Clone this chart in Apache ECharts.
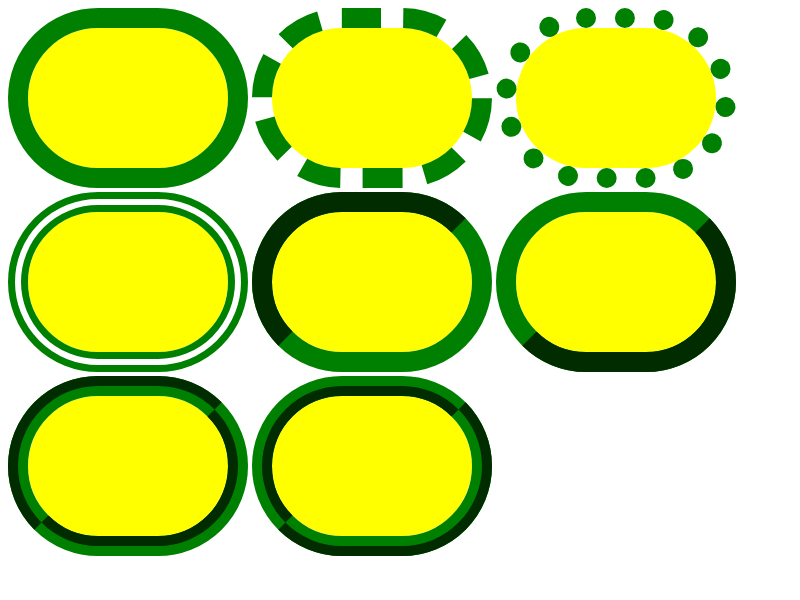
<!DOCTYPE html>
<html lang="en" style="height: 100%">
<head>
  <meta charset="utf-8">
</head>
<body style="height: 100%; margin: 0">
  <div id="container" style="width: 800px; height: 600px"></div>

  <script type="text/javascript" src="https://cdn.jsdelivr.net/npm/echarts@6/dist/echarts.min.js"></script>

  <script type="text/javascript">
    // one box per border style, read left to right, top to bottom
    const borderStyles = ['solid', 'dashed', 'dotted', 'double', 'inset', 'outset', 'groove', 'ridge'];
    const dashCounts = { dashed: 10, dotted: 16 };

    const borderColor = '#008000';
    const shadeColor = '#002c00';
    const fillColor = '#ffff00';

    const boxWidth = 240;
    const boxHeight = 180;
    const borderWidth = 20;
    const radius = 90;
    const margin = 8;
    const gap = 4;
    const columns = 3;

    var dom = document.getElementById('container');
    var myChart = echarts.init(dom, null, { renderer: 'canvas' });

    // a full band of the border between offsets d1 and d2 from the outer edge
    function band(d1, d2, color, extra) {
      const mid = (d1 + d2) / 2;
      return {
        type: 'rect',
        silent: true,
        shape: {
          x: mid,
          y: mid,
          width: boxWidth - 2 * mid,
          height: boxHeight - 2 * mid,
          r: radius - mid
        },
        style: Object.assign({ fill: null, stroke: color, lineWidth: d2 - d1 }, extra || {})
      };
    }

    // half of a band, cut at 45 degrees through the top-right and bottom-left corners
    function halfBand(d1, d2, side, color) {
      const cy = boxHeight / 2;
      const leftX = radius;
      const rightX = boxWidth - radius;
      const r = radius - d1;
      const r0 = radius - d2;
      const PI = Math.PI;
      const parts = [];
      function sector(cx, a0, a1) {
        parts.push({
          type: 'sector',
          silent: true,
          shape: { cx: cx, cy: cy, r: r, r0: r0, startAngle: a0, endAngle: a1, clockwise: true },
          style: { fill: color }
        });
      }
      function straight(y) {
        parts.push({
          type: 'rect',
          silent: true,
          shape: { x: leftX, y: y, width: rightX - leftX, height: d2 - d1 },
          style: { fill: color }
        });
      }
      if (side === 'tl') {
        sector(leftX, PI * 3 / 4, PI * 3 / 2);
        straight(d1);
        sector(rightX, PI * 3 / 2, PI * 7 / 4);
      } else {
        sector(rightX, -PI / 4, PI / 2);
        straight(boxHeight - d2);
        sector(leftX, PI / 2, PI * 3 / 4);
      }
      return parts;
    }

    function borderParts(name) {
      const mid = borderWidth / 2;
      const perimeter = 2 * (boxWidth - 2 * radius) + 2 * (boxHeight - 2 * radius) + 2 * Math.PI * (radius - mid);
      const third = Math.round(borderWidth / 3);
      switch (name) {
        case 'dashed': {
          const period = perimeter / dashCounts.dashed;
          return [band(0, borderWidth, borderColor, { lineDash: [2 * borderWidth, period - 2 * borderWidth], lineDashOffset: 1, lineCap: 'butt' })];
        }
        case 'dotted': {
          const period = perimeter / dashCounts.dotted;
          return [band(0, borderWidth, borderColor, { lineDash: [0.001, period - 0.001], lineDashOffset: 0, lineCap: 'round' })];
        }
        case 'double':
          return [band(0, third, borderColor), band(borderWidth - third, borderWidth, borderColor)];
        case 'inset':
          return [band(0, borderWidth, borderColor)].concat(halfBand(0, borderWidth, 'tl', shadeColor));
        case 'outset':
          return [band(0, borderWidth, borderColor)].concat(halfBand(0, borderWidth, 'br', shadeColor));
        case 'groove':
          return [band(0, borderWidth, borderColor)]
            .concat(halfBand(0, mid, 'tl', shadeColor))
            .concat(halfBand(mid, borderWidth, 'br', shadeColor));
        case 'ridge':
          return [band(0, borderWidth, borderColor)]
            .concat(halfBand(0, mid, 'br', shadeColor))
            .concat(halfBand(mid, borderWidth, 'tl', shadeColor));
        default:
          return [band(0, borderWidth, borderColor)];
      }
    }

    const boxes = borderStyles.map(function (name, i) {
      const col = i % columns;
      const row = Math.floor(i / columns);
      const inner = {
        type: 'rect',
        silent: true,
        shape: {
          x: borderWidth,
          y: borderWidth,
          width: boxWidth - 2 * borderWidth,
          height: boxHeight - 2 * borderWidth,
          r: radius - borderWidth
        },
        style: { fill: fillColor }
      };
      return {
        type: 'group',
        x: margin + col * (boxWidth + gap),
        y: margin + row * (boxHeight + gap),
        children: [inner].concat(borderParts(name))
      };
    });

    var option = {
      backgroundColor: '#ffffff',
      animation: false,
      graphic: { elements: boxes }
    };

    myChart.setOption(option);
    window.addEventListener('resize', myChart.resize);
  </script>
</body>
</html>
